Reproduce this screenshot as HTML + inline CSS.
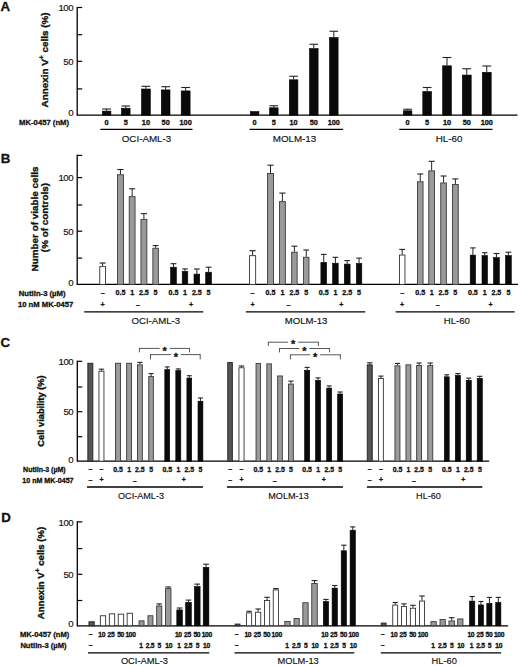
<!DOCTYPE html>
<html><head><meta charset="utf-8"><style>
html,body{margin:0;padding:0;background:#fff;}
svg{display:block;}
text{font-family:"Liberation Sans", sans-serif;}
</style></head><body>
<svg width="520" height="666" viewBox="0 0 520 666" font-family='"Liberation Sans", sans-serif' shape-rendering="geometricPrecision">
<rect x="0" y="0" width="520" height="666" fill="#fff"/>
<text x="0.60" y="10.70" font-size="13.3" font-weight="bold" stroke="#111" stroke-width="0.3" text-anchor="start" fill="#111">A</text>
<line x1="77.20" y1="6.90" x2="77.20" y2="115.70" stroke="#000" stroke-width="1.3"/>
<line x1="77.20" y1="7.50" x2="82.20" y2="7.50" stroke="#000" stroke-width="1.2"/>
<line x1="77.20" y1="34.70" x2="82.20" y2="34.70" stroke="#000" stroke-width="1.2"/>
<line x1="77.20" y1="61.30" x2="82.20" y2="61.30" stroke="#000" stroke-width="1.2"/>
<line x1="77.20" y1="88.90" x2="82.20" y2="88.90" stroke="#000" stroke-width="1.2"/>
<text x="73.20" y="11.24" font-size="9.6" stroke="#111" stroke-width="0.15" text-anchor="end" fill="#111" letter-spacing="-0.4">100</text>
<text x="73.20" y="64.94" font-size="9.6" stroke="#111" stroke-width="0.15" text-anchor="end" fill="#111" letter-spacing="-0.4">50</text>
<text x="73.20" y="116.04" font-size="9.6" stroke="#111" stroke-width="0.15" text-anchor="end" fill="#111" letter-spacing="-0.4">0</text>
<line x1="77.20" y1="115.10" x2="517.50" y2="115.10" stroke="#000" stroke-width="1.4"/>
<text x="0" y="0" font-size="9.9" font-weight="bold" stroke="#111" stroke-width="0.35" text-anchor="middle" fill="#111" transform="translate(47.70,59.90) rotate(-90)">Annexin V<tspan font-size="6.8" dy="-3.7">+</tspan><tspan dy="3.7"> cells (%)</tspan></text>
<line x1="106.60" y1="109.00" x2="106.60" y2="110.80" stroke="#222" stroke-width="1.0"/>
<line x1="102.30" y1="109.00" x2="110.90" y2="109.00" stroke="#222" stroke-width="1.1"/>
<rect x="102.30" y="111.10" width="8.60" height="4.00" fill="#0a0a0a" stroke="#000" stroke-width="0.6"/>
<text x="106.60" y="124.91" font-size="7.3" font-weight="bold" stroke="#111" stroke-width="0.3" text-anchor="middle" fill="#111">0</text>
<line x1="125.80" y1="106.00" x2="125.80" y2="107.90" stroke="#222" stroke-width="1.0"/>
<line x1="121.50" y1="106.00" x2="130.10" y2="106.00" stroke="#222" stroke-width="1.1"/>
<rect x="121.50" y="108.20" width="8.60" height="6.90" fill="#0a0a0a" stroke="#000" stroke-width="0.6"/>
<text x="125.80" y="124.91" font-size="7.3" font-weight="bold" stroke="#111" stroke-width="0.3" text-anchor="middle" fill="#111">5</text>
<line x1="145.90" y1="86.30" x2="145.90" y2="88.70" stroke="#222" stroke-width="1.0"/>
<line x1="141.50" y1="86.30" x2="150.30" y2="86.30" stroke="#222" stroke-width="1.1"/>
<rect x="141.50" y="89.00" width="8.80" height="26.10" fill="#0a0a0a" stroke="#000" stroke-width="0.6"/>
<text x="145.90" y="124.91" font-size="7.3" font-weight="bold" stroke="#111" stroke-width="0.3" text-anchor="middle" fill="#111">10</text>
<line x1="165.65" y1="86.70" x2="165.65" y2="89.60" stroke="#222" stroke-width="1.0"/>
<line x1="161.30" y1="86.70" x2="170.00" y2="86.70" stroke="#222" stroke-width="1.1"/>
<rect x="161.30" y="89.90" width="8.70" height="25.20" fill="#0a0a0a" stroke="#000" stroke-width="0.6"/>
<text x="165.65" y="124.91" font-size="7.3" font-weight="bold" stroke="#111" stroke-width="0.3" text-anchor="middle" fill="#111">50</text>
<line x1="185.65" y1="87.50" x2="185.65" y2="90.60" stroke="#222" stroke-width="1.0"/>
<line x1="181.20" y1="87.50" x2="190.10" y2="87.50" stroke="#222" stroke-width="1.1"/>
<rect x="181.20" y="90.90" width="8.90" height="24.20" fill="#0a0a0a" stroke="#000" stroke-width="0.6"/>
<text x="185.65" y="124.91" font-size="7.3" font-weight="bold" stroke="#111" stroke-width="0.3" text-anchor="middle" fill="#111">100</text>
<rect x="250.30" y="111.55" width="8.60" height="3.55" fill="#0a0a0a" stroke="#000" stroke-width="0.6"/>
<text x="254.60" y="124.91" font-size="7.3" font-weight="bold" stroke="#111" stroke-width="0.3" text-anchor="middle" fill="#111">0</text>
<line x1="273.85" y1="105.75" x2="273.85" y2="107.50" stroke="#222" stroke-width="1.0"/>
<line x1="269.60" y1="105.75" x2="278.10" y2="105.75" stroke="#222" stroke-width="1.1"/>
<rect x="269.60" y="107.80" width="8.50" height="7.30" fill="#0a0a0a" stroke="#000" stroke-width="0.6"/>
<text x="273.85" y="124.91" font-size="7.3" font-weight="bold" stroke="#111" stroke-width="0.3" text-anchor="middle" fill="#111">5</text>
<line x1="293.60" y1="76.25" x2="293.60" y2="79.50" stroke="#222" stroke-width="1.0"/>
<line x1="289.30" y1="76.25" x2="297.90" y2="76.25" stroke="#222" stroke-width="1.1"/>
<rect x="289.30" y="79.80" width="8.60" height="35.30" fill="#0a0a0a" stroke="#000" stroke-width="0.6"/>
<text x="293.60" y="124.91" font-size="7.3" font-weight="bold" stroke="#111" stroke-width="0.3" text-anchor="middle" fill="#111">10</text>
<line x1="313.80" y1="44.25" x2="313.80" y2="48.25" stroke="#222" stroke-width="1.0"/>
<line x1="309.50" y1="44.25" x2="318.10" y2="44.25" stroke="#222" stroke-width="1.1"/>
<rect x="309.50" y="48.55" width="8.60" height="66.55" fill="#0a0a0a" stroke="#000" stroke-width="0.6"/>
<text x="313.80" y="124.91" font-size="7.3" font-weight="bold" stroke="#111" stroke-width="0.3" text-anchor="middle" fill="#111">50</text>
<line x1="333.80" y1="31.25" x2="333.80" y2="37.25" stroke="#222" stroke-width="1.0"/>
<line x1="329.50" y1="31.25" x2="338.10" y2="31.25" stroke="#222" stroke-width="1.1"/>
<rect x="329.50" y="37.55" width="8.60" height="77.55" fill="#0a0a0a" stroke="#000" stroke-width="0.6"/>
<text x="333.80" y="124.91" font-size="7.3" font-weight="bold" stroke="#111" stroke-width="0.3" text-anchor="middle" fill="#111">100</text>
<line x1="407.60" y1="109.25" x2="407.60" y2="110.50" stroke="#222" stroke-width="1.0"/>
<line x1="403.30" y1="109.25" x2="411.90" y2="109.25" stroke="#222" stroke-width="1.1"/>
<rect x="403.30" y="110.80" width="8.60" height="4.30" fill="#0a0a0a" stroke="#000" stroke-width="0.6"/>
<text x="407.60" y="124.91" font-size="7.3" font-weight="bold" stroke="#111" stroke-width="0.3" text-anchor="middle" fill="#111">0</text>
<line x1="427.15" y1="87.50" x2="427.15" y2="91.25" stroke="#222" stroke-width="1.0"/>
<line x1="422.80" y1="87.50" x2="431.50" y2="87.50" stroke="#222" stroke-width="1.1"/>
<rect x="422.80" y="91.55" width="8.70" height="23.55" fill="#0a0a0a" stroke="#000" stroke-width="0.6"/>
<text x="427.15" y="124.91" font-size="7.3" font-weight="bold" stroke="#111" stroke-width="0.3" text-anchor="middle" fill="#111">5</text>
<line x1="447.00" y1="57.50" x2="447.00" y2="65.50" stroke="#222" stroke-width="1.0"/>
<line x1="442.60" y1="57.50" x2="451.40" y2="57.50" stroke="#222" stroke-width="1.1"/>
<rect x="442.60" y="65.80" width="8.80" height="49.30" fill="#0a0a0a" stroke="#000" stroke-width="0.6"/>
<text x="447.00" y="124.91" font-size="7.3" font-weight="bold" stroke="#111" stroke-width="0.3" text-anchor="middle" fill="#111">10</text>
<line x1="466.75" y1="68.75" x2="466.75" y2="74.75" stroke="#222" stroke-width="1.0"/>
<line x1="462.30" y1="68.75" x2="471.20" y2="68.75" stroke="#222" stroke-width="1.1"/>
<rect x="462.30" y="75.05" width="8.90" height="40.05" fill="#0a0a0a" stroke="#000" stroke-width="0.6"/>
<text x="466.75" y="124.91" font-size="7.3" font-weight="bold" stroke="#111" stroke-width="0.3" text-anchor="middle" fill="#111">50</text>
<line x1="486.75" y1="66.00" x2="486.75" y2="72.00" stroke="#222" stroke-width="1.0"/>
<line x1="482.30" y1="66.00" x2="491.20" y2="66.00" stroke="#222" stroke-width="1.1"/>
<rect x="482.30" y="72.30" width="8.90" height="42.80" fill="#0a0a0a" stroke="#000" stroke-width="0.6"/>
<text x="486.75" y="124.91" font-size="7.3" font-weight="bold" stroke="#111" stroke-width="0.3" text-anchor="middle" fill="#111">100</text>
<text x="19.10" y="124.86" font-size="7.7" font-weight="bold" stroke="#111" stroke-width="0.3" text-anchor="start" fill="#111">MK-0457 (nM)</text>
<line x1="100.40" y1="129.40" x2="192.50" y2="129.40" stroke="#000" stroke-width="1.3"/>
<line x1="249.50" y1="129.40" x2="343.20" y2="129.40" stroke="#000" stroke-width="1.3"/>
<line x1="399.30" y1="129.40" x2="492.50" y2="129.40" stroke="#000" stroke-width="1.3"/>
<text x="146.50" y="141.51" font-size="9.8" stroke="#111" stroke-width="0.15" text-anchor="middle" fill="#111">OCI-AML-3</text>
<text x="294.50" y="141.51" font-size="9.8" stroke="#111" stroke-width="0.15" text-anchor="middle" fill="#111">MOLM-13</text>
<text x="449.00" y="141.51" font-size="9.8" stroke="#111" stroke-width="0.15" text-anchor="middle" fill="#111">HL-60</text>
<text x="0.80" y="163.00" font-size="13.3" font-weight="bold" stroke="#111" stroke-width="0.3" text-anchor="start" fill="#111">B</text>
<line x1="77.20" y1="154.80" x2="77.20" y2="285.00" stroke="#000" stroke-width="1.3"/>
<line x1="77.20" y1="155.40" x2="82.20" y2="155.40" stroke="#000" stroke-width="1.2"/>
<line x1="77.20" y1="177.60" x2="82.20" y2="177.60" stroke="#000" stroke-width="1.2"/>
<line x1="77.20" y1="205.00" x2="82.20" y2="205.00" stroke="#000" stroke-width="1.2"/>
<line x1="77.20" y1="231.20" x2="82.20" y2="231.20" stroke="#000" stroke-width="1.2"/>
<line x1="77.20" y1="258.10" x2="82.20" y2="258.10" stroke="#000" stroke-width="1.2"/>
<text x="73.20" y="181.24" font-size="9.6" stroke="#111" stroke-width="0.15" text-anchor="end" fill="#111" letter-spacing="-0.4">100</text>
<text x="73.20" y="234.84" font-size="9.6" stroke="#111" stroke-width="0.15" text-anchor="end" fill="#111" letter-spacing="-0.4">50</text>
<text x="73.20" y="285.64" font-size="9.6" stroke="#111" stroke-width="0.15" text-anchor="end" fill="#111" letter-spacing="-0.4">0</text>
<line x1="77.20" y1="284.40" x2="518.00" y2="284.40" stroke="#000" stroke-width="1.3"/>
<text x="0" y="0" font-size="9.9" font-weight="bold" stroke="#111" stroke-width="0.35" text-anchor="middle" fill="#111" transform="translate(38.20,219.00) rotate(-90)">Number of viable cells</text>
<text x="0" y="0" font-size="9.9" font-weight="bold" stroke="#111" stroke-width="0.35" text-anchor="middle" fill="#111" transform="translate(48.40,217.60) rotate(-90)">(% of controls)</text>
<line x1="102.65" y1="263.00" x2="102.65" y2="266.20" stroke="#222" stroke-width="1.0"/>
<line x1="99.60" y1="263.00" x2="105.70" y2="263.00" stroke="#222" stroke-width="1.1"/>
<rect x="99.75" y="266.65" width="5.80" height="17.75" fill="#ffffff" stroke="#333" stroke-width="0.9"/>
<text x="102.65" y="294.71" font-size="7.1" font-weight="bold" stroke="#111" stroke-width="0.3" text-anchor="middle" fill="#111">–</text>
<line x1="120.45" y1="169.50" x2="120.45" y2="174.30" stroke="#222" stroke-width="1.0"/>
<line x1="117.30" y1="169.50" x2="123.60" y2="169.50" stroke="#222" stroke-width="1.1"/>
<rect x="117.45" y="174.75" width="6.00" height="109.65" fill="#9a9a9a" stroke="#3a3a3a" stroke-width="0.9"/>
<text x="120.45" y="295.34" font-size="7.1" font-weight="bold" stroke="#111" stroke-width="0.3" text-anchor="middle" fill="#111">0.5</text>
<line x1="132.15" y1="188.80" x2="132.15" y2="196.20" stroke="#222" stroke-width="1.0"/>
<line x1="129.10" y1="188.80" x2="135.20" y2="188.80" stroke="#222" stroke-width="1.1"/>
<rect x="129.25" y="196.65" width="5.80" height="87.75" fill="#9a9a9a" stroke="#3a3a3a" stroke-width="0.9"/>
<text x="132.15" y="295.34" font-size="7.1" font-weight="bold" stroke="#111" stroke-width="0.3" text-anchor="middle" fill="#111">1</text>
<line x1="143.90" y1="213.60" x2="143.90" y2="218.90" stroke="#222" stroke-width="1.0"/>
<line x1="140.80" y1="213.60" x2="147.00" y2="213.60" stroke="#222" stroke-width="1.1"/>
<rect x="140.95" y="219.35" width="5.90" height="65.05" fill="#9a9a9a" stroke="#3a3a3a" stroke-width="0.9"/>
<text x="143.90" y="295.34" font-size="7.1" font-weight="bold" stroke="#111" stroke-width="0.3" text-anchor="middle" fill="#111">2.5</text>
<line x1="155.60" y1="245.60" x2="155.60" y2="247.80" stroke="#222" stroke-width="1.0"/>
<line x1="152.70" y1="245.60" x2="158.50" y2="245.60" stroke="#222" stroke-width="1.1"/>
<rect x="152.85" y="248.25" width="5.50" height="36.15" fill="#9a9a9a" stroke="#3a3a3a" stroke-width="0.9"/>
<text x="155.60" y="295.34" font-size="7.1" font-weight="bold" stroke="#111" stroke-width="0.3" text-anchor="middle" fill="#111">5</text>
<line x1="173.50" y1="263.70" x2="173.50" y2="266.90" stroke="#222" stroke-width="1.0"/>
<line x1="170.60" y1="263.70" x2="176.40" y2="263.70" stroke="#222" stroke-width="1.1"/>
<rect x="170.60" y="267.20" width="5.80" height="17.20" fill="#0a0a0a" stroke="#000" stroke-width="0.6"/>
<text x="173.50" y="295.34" font-size="7.1" font-weight="bold" stroke="#111" stroke-width="0.3" text-anchor="middle" fill="#111">0.5</text>
<line x1="185.00" y1="268.90" x2="185.00" y2="271.00" stroke="#222" stroke-width="1.0"/>
<line x1="182.20" y1="268.90" x2="187.80" y2="268.90" stroke="#222" stroke-width="1.1"/>
<rect x="182.20" y="271.30" width="5.60" height="13.10" fill="#0a0a0a" stroke="#000" stroke-width="0.6"/>
<text x="185.00" y="295.34" font-size="7.1" font-weight="bold" stroke="#111" stroke-width="0.3" text-anchor="middle" fill="#111">1</text>
<line x1="196.85" y1="269.00" x2="196.85" y2="273.80" stroke="#222" stroke-width="1.0"/>
<line x1="194.00" y1="269.00" x2="199.70" y2="269.00" stroke="#222" stroke-width="1.1"/>
<rect x="194.00" y="274.10" width="5.70" height="10.30" fill="#0a0a0a" stroke="#000" stroke-width="0.6"/>
<text x="196.85" y="295.34" font-size="7.1" font-weight="bold" stroke="#111" stroke-width="0.3" text-anchor="middle" fill="#111">2.5</text>
<line x1="208.60" y1="267.20" x2="208.60" y2="271.90" stroke="#222" stroke-width="1.0"/>
<line x1="205.70" y1="267.20" x2="211.50" y2="267.20" stroke="#222" stroke-width="1.1"/>
<rect x="205.70" y="272.20" width="5.80" height="12.20" fill="#0a0a0a" stroke="#000" stroke-width="0.6"/>
<text x="208.60" y="295.34" font-size="7.1" font-weight="bold" stroke="#111" stroke-width="0.3" text-anchor="middle" fill="#111">5</text>
<text x="102.65" y="307.16" font-size="7.1" font-weight="bold" stroke="#111" stroke-width="0.3" text-anchor="middle" fill="#111">+</text>
<text x="138.03" y="307.11" font-size="7.1" font-weight="bold" stroke="#111" stroke-width="0.3" text-anchor="middle" fill="#111">–</text>
<text x="191.05" y="307.16" font-size="7.1" font-weight="bold" stroke="#111" stroke-width="0.3" text-anchor="middle" fill="#111">+</text>
<line x1="252.60" y1="250.70" x2="252.60" y2="255.20" stroke="#222" stroke-width="1.0"/>
<line x1="249.40" y1="250.70" x2="255.80" y2="250.70" stroke="#222" stroke-width="1.1"/>
<rect x="249.55" y="255.65" width="6.10" height="28.75" fill="#ffffff" stroke="#333" stroke-width="0.9"/>
<text x="252.60" y="294.71" font-size="7.1" font-weight="bold" stroke="#111" stroke-width="0.3" text-anchor="middle" fill="#111">–</text>
<line x1="270.50" y1="165.20" x2="270.50" y2="173.00" stroke="#222" stroke-width="1.0"/>
<line x1="267.40" y1="165.20" x2="273.60" y2="165.20" stroke="#222" stroke-width="1.1"/>
<rect x="267.55" y="173.45" width="5.90" height="110.95" fill="#9a9a9a" stroke="#3a3a3a" stroke-width="0.9"/>
<text x="270.50" y="295.34" font-size="7.1" font-weight="bold" stroke="#111" stroke-width="0.3" text-anchor="middle" fill="#111">0.5</text>
<line x1="282.40" y1="193.10" x2="282.40" y2="201.20" stroke="#222" stroke-width="1.0"/>
<line x1="279.30" y1="193.10" x2="285.50" y2="193.10" stroke="#222" stroke-width="1.1"/>
<rect x="279.45" y="201.65" width="5.90" height="82.75" fill="#9a9a9a" stroke="#3a3a3a" stroke-width="0.9"/>
<text x="282.40" y="295.34" font-size="7.1" font-weight="bold" stroke="#111" stroke-width="0.3" text-anchor="middle" fill="#111">1</text>
<line x1="294.40" y1="246.20" x2="294.40" y2="251.80" stroke="#222" stroke-width="1.0"/>
<line x1="291.50" y1="246.20" x2="297.30" y2="246.20" stroke="#222" stroke-width="1.1"/>
<rect x="291.65" y="252.25" width="5.50" height="32.15" fill="#9a9a9a" stroke="#3a3a3a" stroke-width="0.9"/>
<text x="294.40" y="295.34" font-size="7.1" font-weight="bold" stroke="#111" stroke-width="0.3" text-anchor="middle" fill="#111">2.5</text>
<line x1="306.25" y1="250.00" x2="306.25" y2="256.80" stroke="#222" stroke-width="1.0"/>
<line x1="303.40" y1="250.00" x2="309.10" y2="250.00" stroke="#222" stroke-width="1.1"/>
<rect x="303.55" y="257.25" width="5.40" height="27.15" fill="#9a9a9a" stroke="#3a3a3a" stroke-width="0.9"/>
<text x="306.25" y="295.34" font-size="7.1" font-weight="bold" stroke="#111" stroke-width="0.3" text-anchor="middle" fill="#111">5</text>
<line x1="323.75" y1="254.40" x2="323.75" y2="262.10" stroke="#222" stroke-width="1.0"/>
<line x1="320.90" y1="254.40" x2="326.60" y2="254.40" stroke="#222" stroke-width="1.1"/>
<rect x="320.90" y="262.40" width="5.70" height="22.00" fill="#0a0a0a" stroke="#000" stroke-width="0.6"/>
<text x="323.75" y="295.34" font-size="7.1" font-weight="bold" stroke="#111" stroke-width="0.3" text-anchor="middle" fill="#111">0.5</text>
<line x1="335.40" y1="257.30" x2="335.40" y2="262.90" stroke="#222" stroke-width="1.0"/>
<line x1="332.60" y1="257.30" x2="338.20" y2="257.30" stroke="#222" stroke-width="1.1"/>
<rect x="332.60" y="263.20" width="5.60" height="21.20" fill="#0a0a0a" stroke="#000" stroke-width="0.6"/>
<text x="335.40" y="295.34" font-size="7.1" font-weight="bold" stroke="#111" stroke-width="0.3" text-anchor="middle" fill="#111">1</text>
<line x1="347.20" y1="260.60" x2="347.20" y2="263.80" stroke="#222" stroke-width="1.0"/>
<line x1="344.30" y1="260.60" x2="350.10" y2="260.60" stroke="#222" stroke-width="1.1"/>
<rect x="344.30" y="264.10" width="5.80" height="20.30" fill="#0a0a0a" stroke="#000" stroke-width="0.6"/>
<text x="347.20" y="295.34" font-size="7.1" font-weight="bold" stroke="#111" stroke-width="0.3" text-anchor="middle" fill="#111">2.5</text>
<line x1="359.05" y1="258.10" x2="359.05" y2="263.10" stroke="#222" stroke-width="1.0"/>
<line x1="356.30" y1="258.10" x2="361.80" y2="258.10" stroke="#222" stroke-width="1.1"/>
<rect x="356.30" y="263.40" width="5.50" height="21.00" fill="#0a0a0a" stroke="#000" stroke-width="0.6"/>
<text x="359.05" y="295.34" font-size="7.1" font-weight="bold" stroke="#111" stroke-width="0.3" text-anchor="middle" fill="#111">5</text>
<text x="252.60" y="307.16" font-size="7.1" font-weight="bold" stroke="#111" stroke-width="0.3" text-anchor="middle" fill="#111">+</text>
<text x="288.38" y="307.11" font-size="7.1" font-weight="bold" stroke="#111" stroke-width="0.3" text-anchor="middle" fill="#111">–</text>
<text x="341.40" y="307.16" font-size="7.1" font-weight="bold" stroke="#111" stroke-width="0.3" text-anchor="middle" fill="#111">+</text>
<line x1="402.20" y1="249.40" x2="402.20" y2="254.60" stroke="#222" stroke-width="1.0"/>
<line x1="399.30" y1="249.40" x2="405.10" y2="249.40" stroke="#222" stroke-width="1.1"/>
<rect x="399.45" y="255.05" width="5.50" height="29.35" fill="#ffffff" stroke="#333" stroke-width="0.9"/>
<text x="402.20" y="294.71" font-size="7.1" font-weight="bold" stroke="#111" stroke-width="0.3" text-anchor="middle" fill="#111">–</text>
<line x1="420.25" y1="174.00" x2="420.25" y2="181.30" stroke="#222" stroke-width="1.0"/>
<line x1="417.30" y1="174.00" x2="423.20" y2="174.00" stroke="#222" stroke-width="1.1"/>
<rect x="417.45" y="181.75" width="5.60" height="102.65" fill="#9a9a9a" stroke="#3a3a3a" stroke-width="0.9"/>
<text x="420.25" y="295.34" font-size="7.1" font-weight="bold" stroke="#111" stroke-width="0.3" text-anchor="middle" fill="#111">0.5</text>
<line x1="431.65" y1="161.30" x2="431.65" y2="170.40" stroke="#222" stroke-width="1.0"/>
<line x1="428.60" y1="161.30" x2="434.70" y2="161.30" stroke="#222" stroke-width="1.1"/>
<rect x="428.75" y="170.85" width="5.80" height="113.55" fill="#9a9a9a" stroke="#3a3a3a" stroke-width="0.9"/>
<text x="431.65" y="295.34" font-size="7.1" font-weight="bold" stroke="#111" stroke-width="0.3" text-anchor="middle" fill="#111">1</text>
<line x1="443.55" y1="176.00" x2="443.55" y2="182.50" stroke="#222" stroke-width="1.0"/>
<line x1="440.60" y1="176.00" x2="446.50" y2="176.00" stroke="#222" stroke-width="1.1"/>
<rect x="440.75" y="182.95" width="5.60" height="101.45" fill="#9a9a9a" stroke="#3a3a3a" stroke-width="0.9"/>
<text x="443.55" y="295.34" font-size="7.1" font-weight="bold" stroke="#111" stroke-width="0.3" text-anchor="middle" fill="#111">2.5</text>
<line x1="455.35" y1="178.90" x2="455.35" y2="184.00" stroke="#222" stroke-width="1.0"/>
<line x1="452.30" y1="178.90" x2="458.40" y2="178.90" stroke="#222" stroke-width="1.1"/>
<rect x="452.45" y="184.45" width="5.80" height="99.95" fill="#9a9a9a" stroke="#3a3a3a" stroke-width="0.9"/>
<text x="455.35" y="295.34" font-size="7.1" font-weight="bold" stroke="#111" stroke-width="0.3" text-anchor="middle" fill="#111">5</text>
<line x1="472.90" y1="247.90" x2="472.90" y2="254.80" stroke="#222" stroke-width="1.0"/>
<line x1="470.20" y1="247.90" x2="475.60" y2="247.90" stroke="#222" stroke-width="1.1"/>
<rect x="470.20" y="255.10" width="5.40" height="29.30" fill="#0a0a0a" stroke="#000" stroke-width="0.6"/>
<text x="472.90" y="295.34" font-size="7.1" font-weight="bold" stroke="#111" stroke-width="0.3" text-anchor="middle" fill="#111">0.5</text>
<line x1="484.75" y1="252.70" x2="484.75" y2="255.30" stroke="#222" stroke-width="1.0"/>
<line x1="482.00" y1="252.70" x2="487.50" y2="252.70" stroke="#222" stroke-width="1.1"/>
<rect x="482.00" y="255.60" width="5.50" height="28.80" fill="#0a0a0a" stroke="#000" stroke-width="0.6"/>
<text x="484.75" y="295.34" font-size="7.1" font-weight="bold" stroke="#111" stroke-width="0.3" text-anchor="middle" fill="#111">1</text>
<line x1="496.40" y1="253.50" x2="496.40" y2="257.30" stroke="#222" stroke-width="1.0"/>
<line x1="493.50" y1="253.50" x2="499.30" y2="253.50" stroke="#222" stroke-width="1.1"/>
<rect x="493.50" y="257.60" width="5.80" height="26.80" fill="#0a0a0a" stroke="#000" stroke-width="0.6"/>
<text x="496.40" y="295.34" font-size="7.1" font-weight="bold" stroke="#111" stroke-width="0.3" text-anchor="middle" fill="#111">2.5</text>
<line x1="508.40" y1="252.20" x2="508.40" y2="255.30" stroke="#222" stroke-width="1.0"/>
<line x1="505.50" y1="252.20" x2="511.30" y2="252.20" stroke="#222" stroke-width="1.1"/>
<rect x="505.50" y="255.60" width="5.80" height="28.80" fill="#0a0a0a" stroke="#000" stroke-width="0.6"/>
<text x="508.40" y="295.34" font-size="7.1" font-weight="bold" stroke="#111" stroke-width="0.3" text-anchor="middle" fill="#111">5</text>
<text x="402.20" y="307.16" font-size="7.1" font-weight="bold" stroke="#111" stroke-width="0.3" text-anchor="middle" fill="#111">+</text>
<text x="437.80" y="307.11" font-size="7.1" font-weight="bold" stroke="#111" stroke-width="0.3" text-anchor="middle" fill="#111">–</text>
<text x="490.65" y="307.16" font-size="7.1" font-weight="bold" stroke="#111" stroke-width="0.3" text-anchor="middle" fill="#111">+</text>
<text x="18.80" y="295.76" font-size="7.7" font-weight="bold" stroke="#111" stroke-width="0.3" text-anchor="start" fill="#111">Nutlin-3 (µM)</text>
<text x="18.00" y="307.04" font-size="7.65" font-weight="bold" stroke="#111" stroke-width="0.3" text-anchor="start" fill="#111">10 nM MK-0457</text>
<line x1="84.20" y1="311.90" x2="203.30" y2="311.90" stroke="#000" stroke-width="1.3"/>
<line x1="245.90" y1="311.90" x2="365.20" y2="311.90" stroke="#000" stroke-width="1.3"/>
<line x1="395.60" y1="311.90" x2="514.60" y2="311.90" stroke="#000" stroke-width="1.3"/>
<text x="155.80" y="324.44" font-size="9.6" stroke="#111" stroke-width="0.15" text-anchor="middle" fill="#111">OCI-AML-3</text>
<text x="306.00" y="324.44" font-size="9.6" stroke="#111" stroke-width="0.15" text-anchor="middle" fill="#111">MOLM-13</text>
<text x="456.80" y="324.44" font-size="9.6" stroke="#111" stroke-width="0.15" text-anchor="middle" fill="#111">HL-60</text>
<text x="0.50" y="347.30" font-size="13.3" font-weight="bold" stroke="#111" stroke-width="0.3" text-anchor="start" fill="#111">C</text>
<line x1="77.30" y1="360.70" x2="77.30" y2="461.80" stroke="#000" stroke-width="1.3"/>
<line x1="77.30" y1="361.30" x2="82.30" y2="361.30" stroke="#000" stroke-width="1.2"/>
<line x1="77.30" y1="387.00" x2="82.30" y2="387.00" stroke="#000" stroke-width="1.2"/>
<line x1="77.30" y1="411.70" x2="82.30" y2="411.70" stroke="#000" stroke-width="1.2"/>
<line x1="77.30" y1="436.70" x2="82.30" y2="436.70" stroke="#000" stroke-width="1.2"/>
<text x="73.30" y="364.94" font-size="9.6" stroke="#111" stroke-width="0.15" text-anchor="end" fill="#111" letter-spacing="-0.4">100</text>
<text x="73.30" y="415.34" font-size="9.6" stroke="#111" stroke-width="0.15" text-anchor="end" fill="#111" letter-spacing="-0.4">50</text>
<text x="73.30" y="462.64" font-size="9.6" stroke="#111" stroke-width="0.15" text-anchor="end" fill="#111" letter-spacing="-0.4">0</text>
<line x1="77.30" y1="461.20" x2="489.20" y2="461.20" stroke="#000" stroke-width="1.3"/>
<text x="0" y="0" font-size="9.3" font-weight="bold" stroke="#111" stroke-width="0.35" text-anchor="middle" fill="#111" transform="translate(43.80,411.00) rotate(-90)">Cell viability (%)</text>
<rect x="87.85" y="363.25" width="5.00" height="97.95" fill="#555555" stroke="#222" stroke-width="0.9"/>
<text x="90.35" y="471.46" font-size="6.9" font-weight="bold" stroke="#111" stroke-width="0.3" text-anchor="middle" fill="#111">–</text>
<line x1="101.45" y1="369.20" x2="101.45" y2="370.80" stroke="#222" stroke-width="1.0"/>
<line x1="98.80" y1="369.20" x2="104.10" y2="369.20" stroke="#222" stroke-width="1.1"/>
<rect x="98.95" y="371.25" width="5.00" height="89.95" fill="#ffffff" stroke="#333" stroke-width="0.9"/>
<text x="101.45" y="471.46" font-size="6.9" font-weight="bold" stroke="#111" stroke-width="0.3" text-anchor="middle" fill="#111">–</text>
<rect x="115.55" y="363.25" width="5.00" height="97.95" fill="#9a9a9a" stroke="#3a3a3a" stroke-width="0.9"/>
<text x="118.05" y="472.07" font-size="6.9" font-weight="bold" stroke="#111" stroke-width="0.3" text-anchor="middle" fill="#111">0.5</text>
<rect x="126.65" y="363.25" width="4.80" height="97.95" fill="#9a9a9a" stroke="#3a3a3a" stroke-width="0.9"/>
<text x="129.05" y="472.07" font-size="6.9" font-weight="bold" stroke="#111" stroke-width="0.3" text-anchor="middle" fill="#111">1</text>
<line x1="139.90" y1="362.40" x2="139.90" y2="364.40" stroke="#222" stroke-width="1.0"/>
<line x1="137.30" y1="362.40" x2="142.50" y2="362.40" stroke="#222" stroke-width="1.1"/>
<rect x="137.45" y="364.85" width="4.90" height="96.35" fill="#9a9a9a" stroke="#3a3a3a" stroke-width="0.9"/>
<text x="139.90" y="472.07" font-size="6.9" font-weight="bold" stroke="#111" stroke-width="0.3" text-anchor="middle" fill="#111">2.5</text>
<line x1="151.05" y1="373.60" x2="151.05" y2="376.10" stroke="#222" stroke-width="1.0"/>
<line x1="148.60" y1="373.60" x2="153.50" y2="373.60" stroke="#222" stroke-width="1.1"/>
<rect x="148.75" y="376.55" width="4.60" height="84.65" fill="#9a9a9a" stroke="#3a3a3a" stroke-width="0.9"/>
<text x="151.05" y="472.07" font-size="6.9" font-weight="bold" stroke="#111" stroke-width="0.3" text-anchor="middle" fill="#111">5</text>
<line x1="167.25" y1="366.90" x2="167.25" y2="369.30" stroke="#222" stroke-width="1.0"/>
<line x1="164.80" y1="366.90" x2="169.70" y2="366.90" stroke="#222" stroke-width="1.1"/>
<rect x="164.80" y="369.60" width="4.90" height="91.60" fill="#0a0a0a" stroke="#000" stroke-width="0.6"/>
<text x="167.25" y="472.07" font-size="6.9" font-weight="bold" stroke="#111" stroke-width="0.3" text-anchor="middle" fill="#111">0.5</text>
<line x1="178.30" y1="368.90" x2="178.30" y2="370.20" stroke="#222" stroke-width="1.0"/>
<line x1="175.80" y1="368.90" x2="180.80" y2="368.90" stroke="#222" stroke-width="1.1"/>
<rect x="175.80" y="370.50" width="5.00" height="90.70" fill="#0a0a0a" stroke="#000" stroke-width="0.6"/>
<text x="178.30" y="472.07" font-size="6.9" font-weight="bold" stroke="#111" stroke-width="0.3" text-anchor="middle" fill="#111">1</text>
<line x1="189.30" y1="375.70" x2="189.30" y2="377.70" stroke="#222" stroke-width="1.0"/>
<line x1="186.90" y1="375.70" x2="191.70" y2="375.70" stroke="#222" stroke-width="1.1"/>
<rect x="186.90" y="378.00" width="4.80" height="83.20" fill="#0a0a0a" stroke="#000" stroke-width="0.6"/>
<text x="189.30" y="472.07" font-size="6.9" font-weight="bold" stroke="#111" stroke-width="0.3" text-anchor="middle" fill="#111">2.5</text>
<line x1="200.45" y1="398.00" x2="200.45" y2="400.90" stroke="#222" stroke-width="1.0"/>
<line x1="198.00" y1="398.00" x2="202.90" y2="398.00" stroke="#222" stroke-width="1.1"/>
<rect x="198.00" y="401.20" width="4.90" height="60.00" fill="#0a0a0a" stroke="#000" stroke-width="0.6"/>
<text x="200.45" y="472.07" font-size="6.9" font-weight="bold" stroke="#111" stroke-width="0.3" text-anchor="middle" fill="#111">5</text>
<text x="90.35" y="482.46" font-size="6.9" font-weight="bold" stroke="#111" stroke-width="0.3" text-anchor="middle" fill="#111">–</text>
<text x="101.45" y="482.49" font-size="6.9" font-weight="bold" stroke="#111" stroke-width="0.3" text-anchor="middle" fill="#111">+</text>
<text x="134.55" y="482.66" font-size="6.9" font-weight="bold" stroke="#111" stroke-width="0.3" text-anchor="middle" fill="#111">–</text>
<text x="183.85" y="482.49" font-size="6.9" font-weight="bold" stroke="#111" stroke-width="0.3" text-anchor="middle" fill="#111">+</text>
<rect x="227.75" y="362.55" width="4.60" height="98.65" fill="#555555" stroke="#222" stroke-width="0.9"/>
<text x="230.05" y="471.46" font-size="6.9" font-weight="bold" stroke="#111" stroke-width="0.3" text-anchor="middle" fill="#111">–</text>
<line x1="241.50" y1="366.00" x2="241.50" y2="367.30" stroke="#222" stroke-width="1.0"/>
<line x1="238.80" y1="366.00" x2="244.20" y2="366.00" stroke="#222" stroke-width="1.1"/>
<rect x="238.95" y="367.75" width="5.10" height="93.45" fill="#ffffff" stroke="#333" stroke-width="0.9"/>
<text x="241.50" y="471.46" font-size="6.9" font-weight="bold" stroke="#111" stroke-width="0.3" text-anchor="middle" fill="#111">–</text>
<rect x="256.05" y="363.45" width="4.40" height="97.75" fill="#9a9a9a" stroke="#3a3a3a" stroke-width="0.9"/>
<text x="258.25" y="472.07" font-size="6.9" font-weight="bold" stroke="#111" stroke-width="0.3" text-anchor="middle" fill="#111">0.5</text>
<rect x="266.85" y="363.85" width="4.50" height="97.35" fill="#9a9a9a" stroke="#3a3a3a" stroke-width="0.9"/>
<text x="269.10" y="472.07" font-size="6.9" font-weight="bold" stroke="#111" stroke-width="0.3" text-anchor="middle" fill="#111">1</text>
<rect x="277.65" y="375.95" width="4.70" height="85.25" fill="#9a9a9a" stroke="#3a3a3a" stroke-width="0.9"/>
<text x="280.00" y="472.07" font-size="6.9" font-weight="bold" stroke="#111" stroke-width="0.3" text-anchor="middle" fill="#111">2.5</text>
<line x1="290.95" y1="381.10" x2="290.95" y2="383.60" stroke="#222" stroke-width="1.0"/>
<line x1="288.40" y1="381.10" x2="293.50" y2="381.10" stroke="#222" stroke-width="1.1"/>
<rect x="288.55" y="384.05" width="4.80" height="77.15" fill="#9a9a9a" stroke="#3a3a3a" stroke-width="0.9"/>
<text x="290.95" y="472.07" font-size="6.9" font-weight="bold" stroke="#111" stroke-width="0.3" text-anchor="middle" fill="#111">5</text>
<line x1="307.15" y1="367.40" x2="307.15" y2="370.00" stroke="#222" stroke-width="1.0"/>
<line x1="304.60" y1="367.40" x2="309.70" y2="367.40" stroke="#222" stroke-width="1.1"/>
<rect x="304.60" y="370.30" width="5.10" height="90.90" fill="#0a0a0a" stroke="#000" stroke-width="0.6"/>
<text x="307.15" y="472.07" font-size="6.9" font-weight="bold" stroke="#111" stroke-width="0.3" text-anchor="middle" fill="#111">0.5</text>
<line x1="318.05" y1="377.90" x2="318.05" y2="380.00" stroke="#222" stroke-width="1.0"/>
<line x1="315.50" y1="377.90" x2="320.60" y2="377.90" stroke="#222" stroke-width="1.1"/>
<rect x="315.50" y="380.30" width="5.10" height="80.90" fill="#0a0a0a" stroke="#000" stroke-width="0.6"/>
<text x="318.05" y="472.07" font-size="6.9" font-weight="bold" stroke="#111" stroke-width="0.3" text-anchor="middle" fill="#111">1</text>
<line x1="329.20" y1="385.90" x2="329.20" y2="387.80" stroke="#222" stroke-width="1.0"/>
<line x1="326.70" y1="385.90" x2="331.70" y2="385.90" stroke="#222" stroke-width="1.1"/>
<rect x="326.70" y="388.10" width="5.00" height="73.10" fill="#0a0a0a" stroke="#000" stroke-width="0.6"/>
<text x="329.20" y="472.07" font-size="6.9" font-weight="bold" stroke="#111" stroke-width="0.3" text-anchor="middle" fill="#111">2.5</text>
<line x1="340.15" y1="392.00" x2="340.15" y2="393.70" stroke="#222" stroke-width="1.0"/>
<line x1="337.60" y1="392.00" x2="342.70" y2="392.00" stroke="#222" stroke-width="1.1"/>
<rect x="337.60" y="394.00" width="5.10" height="67.20" fill="#0a0a0a" stroke="#000" stroke-width="0.6"/>
<text x="340.15" y="472.07" font-size="6.9" font-weight="bold" stroke="#111" stroke-width="0.3" text-anchor="middle" fill="#111">5</text>
<text x="230.05" y="482.46" font-size="6.9" font-weight="bold" stroke="#111" stroke-width="0.3" text-anchor="middle" fill="#111">–</text>
<text x="241.50" y="482.49" font-size="6.9" font-weight="bold" stroke="#111" stroke-width="0.3" text-anchor="middle" fill="#111">+</text>
<text x="274.60" y="482.66" font-size="6.9" font-weight="bold" stroke="#111" stroke-width="0.3" text-anchor="middle" fill="#111">–</text>
<text x="323.65" y="482.49" font-size="6.9" font-weight="bold" stroke="#111" stroke-width="0.3" text-anchor="middle" fill="#111">+</text>
<line x1="369.75" y1="362.80" x2="369.75" y2="364.40" stroke="#222" stroke-width="1.0"/>
<line x1="367.10" y1="362.80" x2="372.40" y2="362.80" stroke="#222" stroke-width="1.1"/>
<rect x="367.25" y="364.85" width="5.00" height="96.35" fill="#555555" stroke="#222" stroke-width="0.9"/>
<text x="369.75" y="471.46" font-size="6.9" font-weight="bold" stroke="#111" stroke-width="0.3" text-anchor="middle" fill="#111">–</text>
<line x1="380.90" y1="376.10" x2="380.90" y2="378.00" stroke="#222" stroke-width="1.0"/>
<line x1="378.30" y1="376.10" x2="383.50" y2="376.10" stroke="#222" stroke-width="1.1"/>
<rect x="378.45" y="378.45" width="4.90" height="82.75" fill="#ffffff" stroke="#333" stroke-width="0.9"/>
<text x="380.90" y="471.46" font-size="6.9" font-weight="bold" stroke="#111" stroke-width="0.3" text-anchor="middle" fill="#111">–</text>
<line x1="397.45" y1="363.40" x2="397.45" y2="365.40" stroke="#222" stroke-width="1.0"/>
<line x1="394.80" y1="363.40" x2="400.10" y2="363.40" stroke="#222" stroke-width="1.1"/>
<rect x="394.95" y="365.85" width="5.00" height="95.35" fill="#9a9a9a" stroke="#3a3a3a" stroke-width="0.9"/>
<text x="397.45" y="472.07" font-size="6.9" font-weight="bold" stroke="#111" stroke-width="0.3" text-anchor="middle" fill="#111">0.5</text>
<rect x="405.95" y="364.85" width="4.90" height="96.35" fill="#9a9a9a" stroke="#3a3a3a" stroke-width="0.9"/>
<text x="408.40" y="472.07" font-size="6.9" font-weight="bold" stroke="#111" stroke-width="0.3" text-anchor="middle" fill="#111">1</text>
<line x1="419.10" y1="363.00" x2="419.10" y2="365.00" stroke="#222" stroke-width="1.0"/>
<line x1="416.50" y1="363.00" x2="421.70" y2="363.00" stroke="#222" stroke-width="1.1"/>
<rect x="416.65" y="365.45" width="4.90" height="95.75" fill="#9a9a9a" stroke="#3a3a3a" stroke-width="0.9"/>
<text x="419.10" y="472.07" font-size="6.9" font-weight="bold" stroke="#111" stroke-width="0.3" text-anchor="middle" fill="#111">2.5</text>
<line x1="430.25" y1="363.00" x2="430.25" y2="365.00" stroke="#222" stroke-width="1.0"/>
<line x1="427.60" y1="363.00" x2="432.90" y2="363.00" stroke="#222" stroke-width="1.1"/>
<rect x="427.75" y="365.45" width="5.00" height="95.75" fill="#9a9a9a" stroke="#3a3a3a" stroke-width="0.9"/>
<text x="430.25" y="472.07" font-size="6.9" font-weight="bold" stroke="#111" stroke-width="0.3" text-anchor="middle" fill="#111">5</text>
<line x1="446.75" y1="374.80" x2="446.75" y2="376.50" stroke="#222" stroke-width="1.0"/>
<line x1="444.30" y1="374.80" x2="449.20" y2="374.80" stroke="#222" stroke-width="1.1"/>
<rect x="444.30" y="376.80" width="4.90" height="84.40" fill="#0a0a0a" stroke="#000" stroke-width="0.6"/>
<text x="446.75" y="472.07" font-size="6.9" font-weight="bold" stroke="#111" stroke-width="0.3" text-anchor="middle" fill="#111">0.5</text>
<line x1="457.85" y1="373.60" x2="457.85" y2="375.10" stroke="#222" stroke-width="1.0"/>
<line x1="455.30" y1="373.60" x2="460.40" y2="373.60" stroke="#222" stroke-width="1.1"/>
<rect x="455.30" y="375.40" width="5.10" height="85.80" fill="#0a0a0a" stroke="#000" stroke-width="0.6"/>
<text x="457.85" y="472.07" font-size="6.9" font-weight="bold" stroke="#111" stroke-width="0.3" text-anchor="middle" fill="#111">1</text>
<line x1="468.75" y1="378.10" x2="468.75" y2="380.00" stroke="#222" stroke-width="1.0"/>
<line x1="466.20" y1="378.10" x2="471.30" y2="378.10" stroke="#222" stroke-width="1.1"/>
<rect x="466.20" y="380.30" width="5.10" height="80.90" fill="#0a0a0a" stroke="#000" stroke-width="0.6"/>
<text x="468.75" y="472.07" font-size="6.9" font-weight="bold" stroke="#111" stroke-width="0.3" text-anchor="middle" fill="#111">2.5</text>
<line x1="479.80" y1="376.30" x2="479.80" y2="378.10" stroke="#222" stroke-width="1.0"/>
<line x1="477.20" y1="376.30" x2="482.40" y2="376.30" stroke="#222" stroke-width="1.1"/>
<rect x="477.20" y="378.40" width="5.20" height="82.80" fill="#0a0a0a" stroke="#000" stroke-width="0.6"/>
<text x="479.80" y="472.07" font-size="6.9" font-weight="bold" stroke="#111" stroke-width="0.3" text-anchor="middle" fill="#111">5</text>
<text x="369.75" y="482.46" font-size="6.9" font-weight="bold" stroke="#111" stroke-width="0.3" text-anchor="middle" fill="#111">–</text>
<text x="380.90" y="482.49" font-size="6.9" font-weight="bold" stroke="#111" stroke-width="0.3" text-anchor="middle" fill="#111">+</text>
<text x="413.85" y="482.66" font-size="6.9" font-weight="bold" stroke="#111" stroke-width="0.3" text-anchor="middle" fill="#111">–</text>
<text x="463.27" y="482.49" font-size="6.9" font-weight="bold" stroke="#111" stroke-width="0.3" text-anchor="middle" fill="#111">+</text>
<text x="23.10" y="471.51" font-size="7.0" font-weight="bold" stroke="#111" stroke-width="0.3" text-anchor="start" fill="#111">Nutlin-3 (µM)</text>
<text x="22.30" y="482.54" font-size="7.1" font-weight="bold" stroke="#111" stroke-width="0.3" text-anchor="start" fill="#111">10 nM MK-0457</text>
<line x1="87.00" y1="487.00" x2="202.90" y2="487.00" stroke="#000" stroke-width="1.3"/>
<line x1="226.90" y1="487.00" x2="342.90" y2="487.00" stroke="#000" stroke-width="1.3"/>
<line x1="366.90" y1="487.00" x2="482.30" y2="487.00" stroke="#000" stroke-width="1.3"/>
<text x="141.00" y="498.66" font-size="9.1" stroke="#111" stroke-width="0.15" text-anchor="middle" fill="#111">OCI-AML-3</text>
<text x="288.50" y="498.66" font-size="9.1" stroke="#111" stroke-width="0.15" text-anchor="middle" fill="#111">MOLM-13</text>
<text x="428.50" y="498.66" font-size="9.1" stroke="#111" stroke-width="0.15" text-anchor="middle" fill="#111">HL-60</text>
<line x1="139.40" y1="348.40" x2="159.70" y2="348.40" stroke="#444" stroke-width="0.9"/>
<line x1="169.70" y1="348.40" x2="189.50" y2="348.40" stroke="#444" stroke-width="0.9"/>
<line x1="139.40" y1="347.95" x2="139.40" y2="352.40" stroke="#444" stroke-width="0.9"/>
<line x1="189.50" y1="347.95" x2="189.50" y2="352.40" stroke="#444" stroke-width="0.9"/>
<text x="164.70" y="354.50" font-size="11" font-weight="bold" stroke="#111" stroke-width="0.3" text-anchor="middle" fill="#111">*</text>
<line x1="150.50" y1="354.60" x2="170.90" y2="354.60" stroke="#444" stroke-width="0.9"/>
<line x1="180.90" y1="354.60" x2="200.20" y2="354.60" stroke="#444" stroke-width="0.9"/>
<line x1="150.50" y1="354.15" x2="150.50" y2="359.40" stroke="#444" stroke-width="0.9"/>
<line x1="200.20" y1="354.15" x2="200.20" y2="359.40" stroke="#444" stroke-width="0.9"/>
<text x="175.90" y="360.70" font-size="11" font-weight="bold" stroke="#111" stroke-width="0.3" text-anchor="middle" fill="#111">*</text>
<line x1="268.30" y1="342.20" x2="288.10" y2="342.20" stroke="#444" stroke-width="0.9"/>
<line x1="298.10" y1="342.20" x2="318.40" y2="342.20" stroke="#444" stroke-width="0.9"/>
<line x1="268.30" y1="341.75" x2="268.30" y2="346.00" stroke="#444" stroke-width="0.9"/>
<line x1="318.40" y1="341.75" x2="318.40" y2="346.00" stroke="#444" stroke-width="0.9"/>
<text x="293.10" y="348.30" font-size="11" font-weight="bold" stroke="#111" stroke-width="0.3" text-anchor="middle" fill="#111">*</text>
<line x1="279.50" y1="348.50" x2="299.30" y2="348.50" stroke="#444" stroke-width="0.9"/>
<line x1="309.30" y1="348.50" x2="329.50" y2="348.50" stroke="#444" stroke-width="0.9"/>
<line x1="279.50" y1="348.05" x2="279.50" y2="352.40" stroke="#444" stroke-width="0.9"/>
<line x1="329.50" y1="348.05" x2="329.50" y2="352.40" stroke="#444" stroke-width="0.9"/>
<text x="304.30" y="354.60" font-size="11" font-weight="bold" stroke="#111" stroke-width="0.3" text-anchor="middle" fill="#111">*</text>
<line x1="290.40" y1="354.80" x2="310.20" y2="354.80" stroke="#444" stroke-width="0.9"/>
<line x1="320.20" y1="354.80" x2="340.40" y2="354.80" stroke="#444" stroke-width="0.9"/>
<line x1="290.40" y1="354.35" x2="290.40" y2="359.40" stroke="#444" stroke-width="0.9"/>
<line x1="340.40" y1="354.35" x2="340.40" y2="359.40" stroke="#444" stroke-width="0.9"/>
<text x="315.20" y="360.90" font-size="11" font-weight="bold" stroke="#111" stroke-width="0.3" text-anchor="middle" fill="#111">*</text>
<text x="1.20" y="522.20" font-size="13.3" font-weight="bold" stroke="#111" stroke-width="0.3" text-anchor="start" fill="#111">D</text>
<line x1="77.30" y1="521.30" x2="77.30" y2="626.40" stroke="#000" stroke-width="1.3"/>
<line x1="77.30" y1="521.90" x2="82.30" y2="521.90" stroke="#000" stroke-width="1.2"/>
<line x1="77.30" y1="548.60" x2="82.30" y2="548.60" stroke="#000" stroke-width="1.2"/>
<line x1="77.30" y1="574.30" x2="82.30" y2="574.30" stroke="#000" stroke-width="1.2"/>
<line x1="77.30" y1="600.50" x2="82.30" y2="600.50" stroke="#000" stroke-width="1.2"/>
<text x="73.30" y="525.54" font-size="9.6" stroke="#111" stroke-width="0.15" text-anchor="end" fill="#111" letter-spacing="-0.4">100</text>
<text x="73.30" y="577.94" font-size="9.6" stroke="#111" stroke-width="0.15" text-anchor="end" fill="#111" letter-spacing="-0.4">50</text>
<text x="73.30" y="627.24" font-size="9.6" stroke="#111" stroke-width="0.15" text-anchor="end" fill="#111" letter-spacing="-0.4">0</text>
<line x1="77.30" y1="625.80" x2="508.20" y2="625.80" stroke="#000" stroke-width="1.3"/>
<text x="0" y="0" font-size="9.6" font-weight="bold" stroke="#111" stroke-width="0.35" text-anchor="middle" fill="#111" transform="translate(43.90,573.00) rotate(-90)">Annexin V<tspan font-size="6.6" dy="-3.6">+</tspan><tspan dy="3.6"> cells (%)</tspan></text>
<rect x="88.95" y="621.75" width="5.30" height="4.05" fill="#555555" stroke="#222" stroke-width="0.9"/>
<text x="90.50" y="635.90" font-size="6.7" font-weight="bold" stroke="#111" stroke-width="0.3" text-anchor="middle" fill="#111" letter-spacing="-0.3">–</text>
<text x="90.50" y="646.90" font-size="6.7" font-weight="bold" stroke="#111" stroke-width="0.3" text-anchor="middle" fill="#111" letter-spacing="-0.3">–</text>
<rect x="100.35" y="615.75" width="5.30" height="10.05" fill="#ffffff" stroke="#333" stroke-width="0.9"/>
<text x="101.70" y="636.50" font-size="6.7" font-weight="bold" stroke="#111" stroke-width="0.3" text-anchor="middle" fill="#111" letter-spacing="-0.3">10</text>
<rect x="109.35" y="613.85" width="5.30" height="11.95" fill="#ffffff" stroke="#333" stroke-width="0.9"/>
<text x="111.00" y="636.50" font-size="6.7" font-weight="bold" stroke="#111" stroke-width="0.3" text-anchor="middle" fill="#111" letter-spacing="-0.3">25</text>
<rect x="118.25" y="614.15" width="5.40" height="11.65" fill="#ffffff" stroke="#333" stroke-width="0.9"/>
<text x="120.55" y="636.50" font-size="6.7" font-weight="bold" stroke="#111" stroke-width="0.3" text-anchor="middle" fill="#111" letter-spacing="-0.3">50</text>
<rect x="127.15" y="613.25" width="5.30" height="12.55" fill="#ffffff" stroke="#333" stroke-width="0.9"/>
<text x="130.60" y="636.50" font-size="6.7" font-weight="bold" stroke="#111" stroke-width="0.3" text-anchor="middle" fill="#111" letter-spacing="-0.3">100</text>
<rect x="139.05" y="620.85" width="5.00" height="4.95" fill="#9a9a9a" stroke="#3a3a3a" stroke-width="0.9"/>
<text x="140.95" y="647.50" font-size="6.7" font-weight="bold" stroke="#111" stroke-width="0.3" text-anchor="middle" fill="#111" letter-spacing="-0.3">1</text>
<rect x="147.95" y="615.75" width="5.00" height="10.05" fill="#9a9a9a" stroke="#3a3a3a" stroke-width="0.9"/>
<text x="150.05" y="647.50" font-size="6.7" font-weight="bold" stroke="#111" stroke-width="0.3" text-anchor="middle" fill="#111" letter-spacing="-0.3">2.5</text>
<line x1="159.20" y1="603.90" x2="159.20" y2="605.50" stroke="#222" stroke-width="1.0"/>
<line x1="156.50" y1="603.90" x2="161.90" y2="603.90" stroke="#222" stroke-width="1.1"/>
<rect x="156.65" y="605.95" width="5.10" height="19.85" fill="#9a9a9a" stroke="#3a3a3a" stroke-width="0.9"/>
<text x="159.30" y="647.50" font-size="6.7" font-weight="bold" stroke="#111" stroke-width="0.3" text-anchor="middle" fill="#111" letter-spacing="-0.3">5</text>
<line x1="168.25" y1="587.00" x2="168.25" y2="588.20" stroke="#222" stroke-width="1.0"/>
<line x1="165.40" y1="587.00" x2="171.10" y2="587.00" stroke="#222" stroke-width="1.1"/>
<rect x="165.55" y="588.65" width="5.40" height="37.15" fill="#9a9a9a" stroke="#3a3a3a" stroke-width="0.9"/>
<text x="168.65" y="647.50" font-size="6.7" font-weight="bold" stroke="#111" stroke-width="0.3" text-anchor="middle" fill="#111" letter-spacing="-0.3">10</text>
<line x1="179.60" y1="608.00" x2="179.60" y2="609.60" stroke="#222" stroke-width="1.0"/>
<line x1="176.80" y1="608.00" x2="182.40" y2="608.00" stroke="#222" stroke-width="1.1"/>
<rect x="176.80" y="609.90" width="5.60" height="15.90" fill="#0a0a0a" stroke="#000" stroke-width="0.6"/>
<text x="178.30" y="636.50" font-size="6.7" font-weight="bold" stroke="#111" stroke-width="0.3" text-anchor="middle" fill="#111" letter-spacing="-0.3">10</text>
<text x="179.00" y="647.50" font-size="6.7" font-weight="bold" stroke="#111" stroke-width="0.3" text-anchor="middle" fill="#111" letter-spacing="-0.3">1</text>
<line x1="188.50" y1="600.10" x2="188.50" y2="602.00" stroke="#222" stroke-width="1.0"/>
<line x1="185.70" y1="600.10" x2="191.30" y2="600.10" stroke="#222" stroke-width="1.1"/>
<rect x="185.70" y="602.30" width="5.60" height="23.50" fill="#0a0a0a" stroke="#000" stroke-width="0.6"/>
<text x="187.50" y="636.50" font-size="6.7" font-weight="bold" stroke="#111" stroke-width="0.3" text-anchor="middle" fill="#111" letter-spacing="-0.3">25</text>
<text x="188.10" y="647.50" font-size="6.7" font-weight="bold" stroke="#111" stroke-width="0.3" text-anchor="middle" fill="#111" letter-spacing="-0.3">2.5</text>
<line x1="197.25" y1="584.10" x2="197.25" y2="586.30" stroke="#222" stroke-width="1.0"/>
<line x1="194.40" y1="584.10" x2="200.10" y2="584.10" stroke="#222" stroke-width="1.1"/>
<rect x="194.40" y="586.60" width="5.70" height="39.20" fill="#0a0a0a" stroke="#000" stroke-width="0.6"/>
<text x="196.85" y="636.50" font-size="6.7" font-weight="bold" stroke="#111" stroke-width="0.3" text-anchor="middle" fill="#111" letter-spacing="-0.3">50</text>
<text x="197.35" y="647.50" font-size="6.7" font-weight="bold" stroke="#111" stroke-width="0.3" text-anchor="middle" fill="#111" letter-spacing="-0.3">5</text>
<line x1="206.05" y1="564.20" x2="206.05" y2="567.00" stroke="#222" stroke-width="1.0"/>
<line x1="203.20" y1="564.20" x2="208.90" y2="564.20" stroke="#222" stroke-width="1.1"/>
<rect x="203.20" y="567.30" width="5.70" height="58.50" fill="#0a0a0a" stroke="#000" stroke-width="0.6"/>
<text x="206.85" y="636.50" font-size="6.7" font-weight="bold" stroke="#111" stroke-width="0.3" text-anchor="middle" fill="#111" letter-spacing="-0.3">100</text>
<text x="206.45" y="647.50" font-size="6.7" font-weight="bold" stroke="#111" stroke-width="0.3" text-anchor="middle" fill="#111" letter-spacing="-0.3">10</text>
<rect x="235.15" y="624.05" width="4.80" height="1.75" fill="#555555" stroke="#222" stroke-width="0.9"/>
<text x="236.45" y="635.90" font-size="6.7" font-weight="bold" stroke="#111" stroke-width="0.3" text-anchor="middle" fill="#111" letter-spacing="-0.3">–</text>
<text x="236.45" y="646.90" font-size="6.7" font-weight="bold" stroke="#111" stroke-width="0.3" text-anchor="middle" fill="#111" letter-spacing="-0.3">–</text>
<line x1="249.10" y1="611.30" x2="249.10" y2="612.40" stroke="#222" stroke-width="1.0"/>
<line x1="246.40" y1="611.30" x2="251.80" y2="611.30" stroke="#222" stroke-width="1.1"/>
<rect x="246.55" y="612.85" width="5.10" height="12.95" fill="#ffffff" stroke="#333" stroke-width="0.9"/>
<text x="247.80" y="636.50" font-size="6.7" font-weight="bold" stroke="#111" stroke-width="0.3" text-anchor="middle" fill="#111" letter-spacing="-0.3">10</text>
<line x1="258.15" y1="609.00" x2="258.15" y2="611.80" stroke="#222" stroke-width="1.0"/>
<line x1="255.40" y1="609.00" x2="260.90" y2="609.00" stroke="#222" stroke-width="1.1"/>
<rect x="255.55" y="612.25" width="5.20" height="13.55" fill="#ffffff" stroke="#333" stroke-width="0.9"/>
<text x="257.15" y="636.50" font-size="6.7" font-weight="bold" stroke="#111" stroke-width="0.3" text-anchor="middle" fill="#111" letter-spacing="-0.3">25</text>
<line x1="267.05" y1="597.30" x2="267.05" y2="600.10" stroke="#222" stroke-width="1.0"/>
<line x1="264.30" y1="597.30" x2="269.80" y2="597.30" stroke="#222" stroke-width="1.1"/>
<rect x="264.45" y="600.55" width="5.20" height="25.25" fill="#ffffff" stroke="#333" stroke-width="0.9"/>
<text x="266.65" y="636.50" font-size="6.7" font-weight="bold" stroke="#111" stroke-width="0.3" text-anchor="middle" fill="#111" letter-spacing="-0.3">50</text>
<line x1="275.90" y1="588.60" x2="275.90" y2="589.50" stroke="#222" stroke-width="1.0"/>
<line x1="273.10" y1="588.60" x2="278.70" y2="588.60" stroke="#222" stroke-width="1.1"/>
<rect x="273.25" y="589.95" width="5.30" height="35.85" fill="#ffffff" stroke="#333" stroke-width="0.9"/>
<text x="276.70" y="636.50" font-size="6.7" font-weight="bold" stroke="#111" stroke-width="0.3" text-anchor="middle" fill="#111" letter-spacing="-0.3">100</text>
<rect x="284.85" y="621.45" width="5.30" height="4.35" fill="#9a9a9a" stroke="#3a3a3a" stroke-width="0.9"/>
<text x="286.90" y="647.50" font-size="6.7" font-weight="bold" stroke="#111" stroke-width="0.3" text-anchor="middle" fill="#111" letter-spacing="-0.3">1</text>
<rect x="294.05" y="618.45" width="5.20" height="7.35" fill="#9a9a9a" stroke="#3a3a3a" stroke-width="0.9"/>
<text x="296.25" y="647.50" font-size="6.7" font-weight="bold" stroke="#111" stroke-width="0.3" text-anchor="middle" fill="#111" letter-spacing="-0.3">2.5</text>
<rect x="302.85" y="602.75" width="5.30" height="23.05" fill="#9a9a9a" stroke="#3a3a3a" stroke-width="0.9"/>
<text x="305.60" y="647.50" font-size="6.7" font-weight="bold" stroke="#111" stroke-width="0.3" text-anchor="middle" fill="#111" letter-spacing="-0.3">5</text>
<line x1="314.50" y1="580.60" x2="314.50" y2="583.00" stroke="#222" stroke-width="1.0"/>
<line x1="311.60" y1="580.60" x2="317.40" y2="580.60" stroke="#222" stroke-width="1.1"/>
<rect x="311.75" y="583.45" width="5.50" height="42.35" fill="#9a9a9a" stroke="#3a3a3a" stroke-width="0.9"/>
<text x="314.90" y="647.50" font-size="6.7" font-weight="bold" stroke="#111" stroke-width="0.3" text-anchor="middle" fill="#111" letter-spacing="-0.3">10</text>
<line x1="325.95" y1="599.40" x2="325.95" y2="601.10" stroke="#222" stroke-width="1.0"/>
<line x1="323.30" y1="599.40" x2="328.60" y2="599.40" stroke="#222" stroke-width="1.1"/>
<rect x="323.30" y="601.40" width="5.30" height="24.40" fill="#0a0a0a" stroke="#000" stroke-width="0.6"/>
<text x="324.65" y="636.50" font-size="6.7" font-weight="bold" stroke="#111" stroke-width="0.3" text-anchor="middle" fill="#111" letter-spacing="-0.3">10</text>
<text x="325.35" y="647.50" font-size="6.7" font-weight="bold" stroke="#111" stroke-width="0.3" text-anchor="middle" fill="#111" letter-spacing="-0.3">1</text>
<line x1="334.75" y1="585.50" x2="334.75" y2="587.80" stroke="#222" stroke-width="1.0"/>
<line x1="332.10" y1="585.50" x2="337.40" y2="585.50" stroke="#222" stroke-width="1.1"/>
<rect x="332.10" y="588.10" width="5.30" height="37.70" fill="#0a0a0a" stroke="#000" stroke-width="0.6"/>
<text x="333.75" y="636.50" font-size="6.7" font-weight="bold" stroke="#111" stroke-width="0.3" text-anchor="middle" fill="#111" letter-spacing="-0.3">25</text>
<text x="334.35" y="647.50" font-size="6.7" font-weight="bold" stroke="#111" stroke-width="0.3" text-anchor="middle" fill="#111" letter-spacing="-0.3">2.5</text>
<line x1="343.85" y1="545.20" x2="343.85" y2="550.50" stroke="#222" stroke-width="1.0"/>
<line x1="341.20" y1="545.20" x2="346.50" y2="545.20" stroke="#222" stroke-width="1.1"/>
<rect x="341.20" y="550.80" width="5.30" height="75.00" fill="#0a0a0a" stroke="#000" stroke-width="0.6"/>
<text x="343.45" y="636.50" font-size="6.7" font-weight="bold" stroke="#111" stroke-width="0.3" text-anchor="middle" fill="#111" letter-spacing="-0.3">50</text>
<text x="343.95" y="647.50" font-size="6.7" font-weight="bold" stroke="#111" stroke-width="0.3" text-anchor="middle" fill="#111" letter-spacing="-0.3">5</text>
<line x1="352.75" y1="526.90" x2="352.75" y2="529.90" stroke="#222" stroke-width="1.0"/>
<line x1="350.10" y1="526.90" x2="355.40" y2="526.90" stroke="#222" stroke-width="1.1"/>
<rect x="350.10" y="530.20" width="5.30" height="95.60" fill="#0a0a0a" stroke="#000" stroke-width="0.6"/>
<text x="353.55" y="636.50" font-size="6.7" font-weight="bold" stroke="#111" stroke-width="0.3" text-anchor="middle" fill="#111" letter-spacing="-0.3">100</text>
<text x="353.15" y="647.50" font-size="6.7" font-weight="bold" stroke="#111" stroke-width="0.3" text-anchor="middle" fill="#111" letter-spacing="-0.3">10</text>
<rect x="381.25" y="623.05" width="4.80" height="2.75" fill="#555555" stroke="#222" stroke-width="0.9"/>
<text x="382.55" y="635.90" font-size="6.7" font-weight="bold" stroke="#111" stroke-width="0.3" text-anchor="middle" fill="#111" letter-spacing="-0.3">–</text>
<text x="382.55" y="646.90" font-size="6.7" font-weight="bold" stroke="#111" stroke-width="0.3" text-anchor="middle" fill="#111" letter-spacing="-0.3">–</text>
<line x1="395.20" y1="602.50" x2="395.20" y2="604.60" stroke="#222" stroke-width="1.0"/>
<line x1="392.60" y1="602.50" x2="397.80" y2="602.50" stroke="#222" stroke-width="1.1"/>
<rect x="392.75" y="605.05" width="4.90" height="20.75" fill="#ffffff" stroke="#333" stroke-width="0.9"/>
<text x="393.90" y="636.50" font-size="6.7" font-weight="bold" stroke="#111" stroke-width="0.3" text-anchor="middle" fill="#111" letter-spacing="-0.3">10</text>
<line x1="403.95" y1="603.90" x2="403.95" y2="606.00" stroke="#222" stroke-width="1.0"/>
<line x1="401.30" y1="603.90" x2="406.60" y2="603.90" stroke="#222" stroke-width="1.1"/>
<rect x="401.45" y="606.45" width="5.00" height="19.35" fill="#ffffff" stroke="#333" stroke-width="0.9"/>
<text x="402.95" y="636.50" font-size="6.7" font-weight="bold" stroke="#111" stroke-width="0.3" text-anchor="middle" fill="#111" letter-spacing="-0.3">25</text>
<line x1="412.95" y1="605.30" x2="412.95" y2="607.80" stroke="#222" stroke-width="1.0"/>
<line x1="410.20" y1="605.30" x2="415.70" y2="605.30" stroke="#222" stroke-width="1.1"/>
<rect x="410.35" y="608.25" width="5.20" height="17.55" fill="#ffffff" stroke="#333" stroke-width="0.9"/>
<text x="412.55" y="636.50" font-size="6.7" font-weight="bold" stroke="#111" stroke-width="0.3" text-anchor="middle" fill="#111" letter-spacing="-0.3">50</text>
<line x1="422.00" y1="596.00" x2="422.00" y2="600.60" stroke="#222" stroke-width="1.0"/>
<line x1="419.30" y1="596.00" x2="424.70" y2="596.00" stroke="#222" stroke-width="1.1"/>
<rect x="419.45" y="601.05" width="5.10" height="24.75" fill="#ffffff" stroke="#333" stroke-width="0.9"/>
<text x="422.80" y="636.50" font-size="6.7" font-weight="bold" stroke="#111" stroke-width="0.3" text-anchor="middle" fill="#111" letter-spacing="-0.3">100</text>
<rect x="430.95" y="621.65" width="5.30" height="4.15" fill="#9a9a9a" stroke="#3a3a3a" stroke-width="0.9"/>
<text x="433.00" y="647.50" font-size="6.7" font-weight="bold" stroke="#111" stroke-width="0.3" text-anchor="middle" fill="#111" letter-spacing="-0.3">1</text>
<rect x="440.05" y="619.45" width="5.20" height="6.35" fill="#9a9a9a" stroke="#3a3a3a" stroke-width="0.9"/>
<text x="442.25" y="647.50" font-size="6.7" font-weight="bold" stroke="#111" stroke-width="0.3" text-anchor="middle" fill="#111" letter-spacing="-0.3">2.5</text>
<line x1="451.70" y1="617.70" x2="451.70" y2="620.50" stroke="#222" stroke-width="1.0"/>
<line x1="448.80" y1="617.70" x2="454.60" y2="617.70" stroke="#222" stroke-width="1.1"/>
<rect x="448.95" y="620.95" width="5.50" height="4.85" fill="#9a9a9a" stroke="#3a3a3a" stroke-width="0.9"/>
<text x="451.80" y="647.50" font-size="6.7" font-weight="bold" stroke="#111" stroke-width="0.3" text-anchor="middle" fill="#111" letter-spacing="-0.3">5</text>
<rect x="457.65" y="618.95" width="5.30" height="6.85" fill="#9a9a9a" stroke="#3a3a3a" stroke-width="0.9"/>
<text x="460.70" y="647.50" font-size="6.7" font-weight="bold" stroke="#111" stroke-width="0.3" text-anchor="middle" fill="#111" letter-spacing="-0.3">10</text>
<line x1="472.15" y1="596.50" x2="472.15" y2="600.80" stroke="#222" stroke-width="1.0"/>
<line x1="469.50" y1="596.50" x2="474.80" y2="596.50" stroke="#222" stroke-width="1.1"/>
<rect x="469.50" y="601.10" width="5.30" height="24.70" fill="#0a0a0a" stroke="#000" stroke-width="0.6"/>
<text x="470.85" y="636.50" font-size="6.7" font-weight="bold" stroke="#111" stroke-width="0.3" text-anchor="middle" fill="#111" letter-spacing="-0.3">10</text>
<text x="471.55" y="647.50" font-size="6.7" font-weight="bold" stroke="#111" stroke-width="0.3" text-anchor="middle" fill="#111" letter-spacing="-0.3">1</text>
<line x1="480.90" y1="601.50" x2="480.90" y2="604.60" stroke="#222" stroke-width="1.0"/>
<line x1="478.30" y1="601.50" x2="483.50" y2="601.50" stroke="#222" stroke-width="1.1"/>
<rect x="478.30" y="604.90" width="5.20" height="20.90" fill="#0a0a0a" stroke="#000" stroke-width="0.6"/>
<text x="479.90" y="636.50" font-size="6.7" font-weight="bold" stroke="#111" stroke-width="0.3" text-anchor="middle" fill="#111" letter-spacing="-0.3">25</text>
<text x="480.50" y="647.50" font-size="6.7" font-weight="bold" stroke="#111" stroke-width="0.3" text-anchor="middle" fill="#111" letter-spacing="-0.3">2.5</text>
<line x1="489.40" y1="597.40" x2="489.40" y2="603.10" stroke="#222" stroke-width="1.0"/>
<line x1="486.80" y1="597.40" x2="492.00" y2="597.40" stroke="#222" stroke-width="1.1"/>
<rect x="486.80" y="603.40" width="5.20" height="22.40" fill="#0a0a0a" stroke="#000" stroke-width="0.6"/>
<text x="489.00" y="636.50" font-size="6.7" font-weight="bold" stroke="#111" stroke-width="0.3" text-anchor="middle" fill="#111" letter-spacing="-0.3">50</text>
<text x="489.50" y="647.50" font-size="6.7" font-weight="bold" stroke="#111" stroke-width="0.3" text-anchor="middle" fill="#111" letter-spacing="-0.3">5</text>
<line x1="498.30" y1="597.40" x2="498.30" y2="602.00" stroke="#222" stroke-width="1.0"/>
<line x1="495.70" y1="597.40" x2="500.90" y2="597.40" stroke="#222" stroke-width="1.1"/>
<rect x="495.70" y="602.30" width="5.20" height="23.50" fill="#0a0a0a" stroke="#000" stroke-width="0.6"/>
<text x="499.10" y="636.50" font-size="6.7" font-weight="bold" stroke="#111" stroke-width="0.3" text-anchor="middle" fill="#111" letter-spacing="-0.3">100</text>
<text x="498.70" y="647.50" font-size="6.7" font-weight="bold" stroke="#111" stroke-width="0.3" text-anchor="middle" fill="#111" letter-spacing="-0.3">10</text>
<text x="20.00" y="636.82" font-size="7.6" font-weight="bold" stroke="#111" stroke-width="0.3" text-anchor="start" fill="#111">MK-0457 (nM)</text>
<text x="20.40" y="648.02" font-size="7.6" font-weight="bold" stroke="#111" stroke-width="0.3" text-anchor="start" fill="#111">Nutlin-3 (µM)</text>
<line x1="88.00" y1="652.90" x2="209.30" y2="652.90" stroke="#000" stroke-width="1.3"/>
<line x1="234.50" y1="652.90" x2="354.30" y2="652.90" stroke="#000" stroke-width="1.3"/>
<line x1="380.80" y1="652.90" x2="501.20" y2="652.90" stroke="#000" stroke-width="1.3"/>
<text x="144.40" y="664.03" font-size="9.3" stroke="#111" stroke-width="0.15" text-anchor="middle" fill="#111">OCI-AML-3</text>
<text x="298.10" y="664.03" font-size="9.3" stroke="#111" stroke-width="0.15" text-anchor="middle" fill="#111">MOLM-13</text>
<text x="444.20" y="664.03" font-size="9.3" stroke="#111" stroke-width="0.15" text-anchor="middle" fill="#111">HL-60</text>
</svg>
</body></html>
